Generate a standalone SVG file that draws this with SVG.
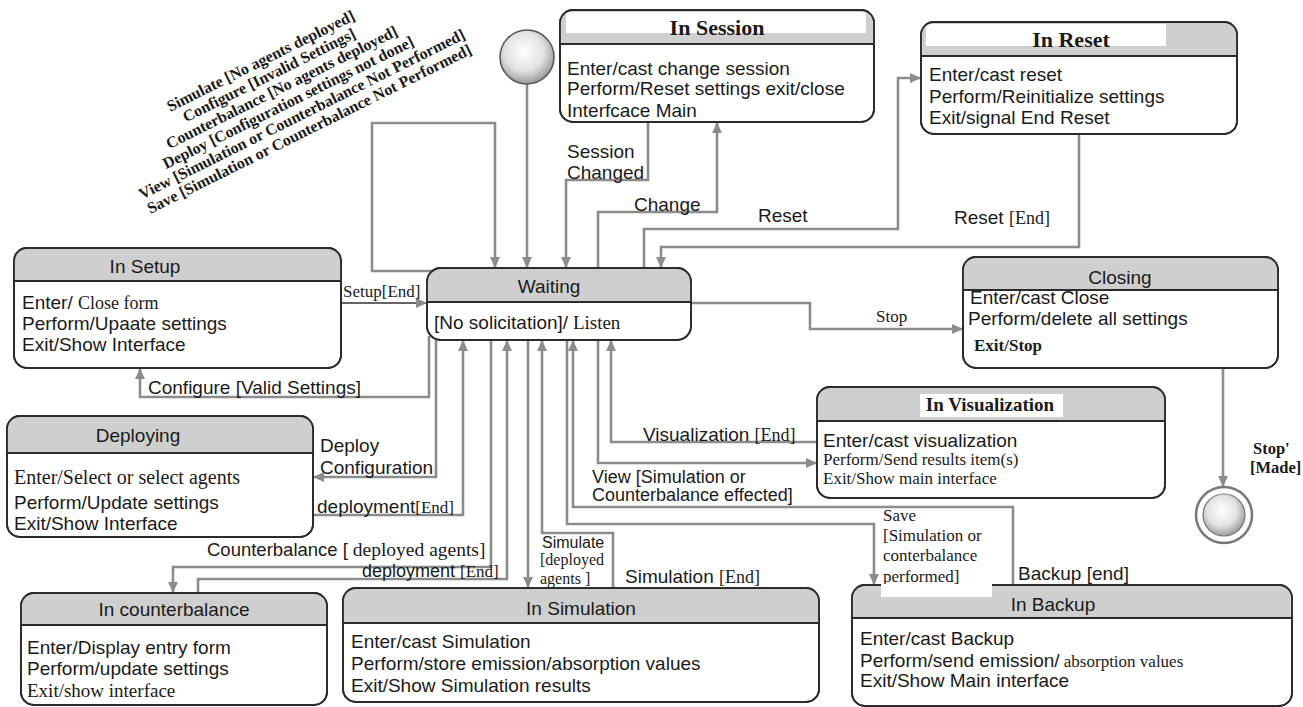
<svg xmlns="http://www.w3.org/2000/svg" width="1303" height="707" viewBox="0 0 1303 707">
<style>
.s{font-family:"Liberation Sans",Arial,sans-serif;font-size:19px;fill:#1a1a1a}
.t{font-family:"Liberation Serif","Times New Roman",serif;font-size:17px;fill:#1a1a1a}
.tb{font-family:"Liberation Serif","Times New Roman",serif;font-weight:bold;fill:#1a1a1a}
.box{fill:#fff;stroke:#2b2b2b;stroke-width:1.8}
.ol{fill:none;stroke:#2b2b2b;stroke-width:1.8}
.hd{fill:#cfcfcf}
.dv{stroke:#2b2b2b;stroke-width:1.8}
.c{fill:none;stroke:#8c8c8c;stroke-width:2.6}
.cd{fill:none;stroke:#333;stroke-width:1.6}
</style>
<defs>
<marker id="ah" viewBox="0 0 10 10" refX="10" refY="5" markerWidth="11" markerHeight="11" markerUnits="userSpaceOnUse" orient="auto">
<path d="M0,0.5 L10,5 L0,9.5 z" fill="#8c8c8c"/>
</marker>
<radialGradient id="g" cx="0.45" cy="0.4" r="0.6">
<stop offset="0" stop-color="#ffffff"/>
<stop offset="0.6" stop-color="#e2e2e2"/>
<stop offset="1" stop-color="#9a9a9a"/>
</radialGradient>
</defs>

<g id="guards" class="tb" style="font-size:16px">
<g transform="translate(170,112) rotate(-26.5)">
<text x="104" y="0" text-anchor="middle">Simulate [No agents deployed]</text>
<text x="105" y="16.5" text-anchor="middle">Configure [Invalid Settings]</text>
<text x="111" y="33" text-anchor="middle">Counterbalance [No agents deployed]</text>
<text x="110" y="49.5" text-anchor="middle">Deploy [Configuration settings not done]</text>
<text x="117" y="66" text-anchor="middle">View [Simulation or Counterbalance Not Performed]</text>
<text x="117" y="82.5" text-anchor="middle">Save [Simulation or Counterbalance Not Performed]</text>
</g>
</g>

<g id="connectors">
<path class="c" d="M527,84 V268" marker-end="url(#ah)"/>
<path class="c" d="M437,271 H372 V123 H495 V268" marker-end="url(#ah)"/>
<path class="c" d="M648,122 V180 H566 V268" marker-end="url(#ah)"/>
<path class="c" d="M598,268 V212 H717 V122" marker-end="url(#ah)"/>
<path class="c" d="M644,268 V229 H898 V78 H921" marker-end="url(#ah)"/>
<path class="c" d="M1079,134 V247 H661 V268" marker-end="url(#ah)"/>
<path class="cd" d="M341,303 H427" marker-end="url(#ah)"/>
<path class="c" d="M429,336 V397 H140 V368" marker-end="url(#ah)"/>
<path class="c" d="M691,303 H810 V329 H963" marker-end="url(#ah)"/>
<path class="c" d="M1223,368 V487" marker-end="url(#ah)"/>
<path class="c" d="M436,340 V477 H313" marker-end="url(#ah)"/>
<path class="c" d="M313,515 H463 V340" marker-end="url(#ah)"/>
<path class="c" d="M491,340 V567 H173 V593" marker-end="url(#ah)"/>
<path class="c" d="M198,593 V579 H507 V340" marker-end="url(#ah)"/>
<path class="c" d="M528,340 V588" marker-end="url(#ah)"/>
<path class="c" d="M613,588 V533 H542 V340" marker-end="url(#ah)"/>
<path class="c" d="M567,340 V524 H874 V585" marker-end="url(#ah)"/>
<path class="c" d="M1013,585 V507 H573 V340" marker-end="url(#ah)"/>
<path class="c" d="M598,340 V463 H817" marker-end="url(#ah)"/>
<path class="c" d="M817,442 H611 V340" marker-end="url(#ah)"/>
<text class="s" x="567" y="158">Session</text>
<text class="s" x="567" y="179">Changed</text>
<text class="s" x="634" y="211">Change</text>
<text class="s" x="758" y="222">Reset</text>
<text class="s" x="954" y="224">Reset <tspan class="t" style="font-size:18px">[End]</tspan></text>
<text class="t" x="343" y="297">Setup[End]</text>
<text class="s" x="148" y="394">Configure [Valid Settings]</text>
<text class="t" x="876" y="322">Stop</text>
<text class="tb" style="font-size:16.5px" x="1253" y="454">Stop'</text>
<text class="tb" style="font-size:16.5px" x="1250" y="473">[Made]</text>
<text class="s" x="320" y="452">Deploy</text>
<text class="s" x="320" y="474">Configuration</text>
<text class="s" x="317" y="513">deployment<tspan class="t">[End]</tspan></text>
<text class="s" style="font-size:18.5px" x="207" y="556">Counterbalance [<tspan class="t" style="font-size:19.5px"> deployed agents]</tspan></text>
<text class="s" style="font-size:18px" x="362" y="577">deployment <tspan class="t">[End]</tspan></text>
<text class="s" style="font-size:16px" x="542" y="548">Simulate</text>
<text class="t" style="font-size:16px" x="540" y="565">[deployed</text>
<text class="t" style="font-size:16px" x="540" y="584">agents ]</text>
<text class="s" x="625" y="583">Simulation <tspan class="t" style="font-size:18px">[End]</tspan></text>
<text class="t" x="883" y="521">Save</text>
<text class="t" x="883" y="541">[Simulation or</text>
<text class="t" x="883" y="561">conterbalance</text>
<text class="t" x="883" y="582">performed]</text>
<text class="s" x="1018" y="580">Backup [end]</text>
<text class="s" x="643" y="441">Visualization <tspan class="t" style="font-size:18px">[End]</tspan></text>
<text class="s" style="font-size:18px" x="592" y="483">View [Simulation or</text>
<text class="s" style="font-size:18px" x="592" y="501">Counterbalance effected]</text>
</g>

<g id="initial">
<circle cx="527" cy="57" r="27" fill="url(#g)" stroke="#555" stroke-width="1.5"/>
</g>

<g id="final">
<circle cx="1224" cy="515" r="28" fill="#fff" stroke="#777" stroke-width="2.5"/>
<circle cx="1224" cy="515" r="21" fill="url(#g)" stroke="#777" stroke-width="1.2"/>
</g>

<g id="in-session">
<rect class="box" x="560" y="10" width="314" height="112" rx="13"/>
<path class="hd" d="M560,44 V23 A13,13 0 0 1 573,10 H861 A13,13 0 0 1 874,23 V44 Z"/>
<rect x="566" y="12" width="300" height="21" fill="#fff"/>
<line class="dv" x1="560" y1="44" x2="874" y2="44"/>
<rect class="ol" x="560" y="10" width="314" height="112" rx="13"/>
<text class="tb" style="font-size:22px" x="717" y="35" text-anchor="middle">In Session</text>
<text class="s" x="567" y="75">Enter/cast change session</text>
<text class="s" x="567" y="95">Perform/Reset settings exit/close</text>
<text class="s" x="567" y="117">Interfcace Main</text>
</g>

<g id="in-reset">
<rect class="box" x="921" y="22" width="316" height="112" rx="13"/>
<path class="hd" d="M921,56 V35 A13,13 0 0 1 934,22 H1224 A13,13 0 0 1 1237,35 V56 Z"/>
<rect x="926" y="24" width="240" height="22" fill="#fff"/>
<line class="dv" x1="921" y1="56" x2="1237" y2="56"/>
<rect class="ol" x="921" y="22" width="316" height="112" rx="13"/>
<text class="tb" style="font-size:22px" x="1071" y="47" text-anchor="middle">In Reset</text>
<text class="s" x="929" y="81">Enter/cast reset</text>
<text class="s" x="929" y="103">Perform/Reinitialize settings</text>
<text class="s" x="929" y="124">Exit/signal End Reset</text>
</g>

<g id="waiting">
<rect class="box" x="427" y="268" width="264" height="72" rx="14"/>
<path class="hd" d="M427,302 V282 A14,14 0 0 1 441,268 H677 A14,14 0 0 1 691,282 V302 Z"/>
<line class="dv" x1="427" y1="302" x2="691" y2="302"/>
<rect class="ol" x="427" y="268" width="264" height="72" rx="14"/>
<text class="s" x="549" y="293" text-anchor="middle">Waiting</text>
<text class="s" x="434" y="329">[No solicitation]/<tspan class="t" style="font-size:19px"> Listen</tspan></text>
</g>

<g id="in-setup">
<rect class="box" x="14" y="248" width="327" height="120" rx="13"/>
<path class="hd" d="M14,281 V261 A13,13 0 0 1 27,248 H328 A13,13 0 0 1 341,261 V281 Z"/>
<line class="dv" x1="14" y1="281" x2="341" y2="281"/>
<rect class="ol" x="14" y="248" width="327" height="120" rx="13"/>
<text class="s" x="145" y="273" text-anchor="middle">In Setup</text>
<text class="s" x="22" y="309">Enter/ <tspan class="t" style="font-size:18px">Close form</tspan></text>
<text class="s" x="22" y="330"> Perform/Upaate settings</text>
<text class="s" x="22" y="351">Exit/Show Interface</text>
</g>

<g id="closing">
<rect class="box" x="963" y="257" width="315" height="111" rx="13"/>
<path class="hd" d="M963,290 V270 A13,13 0 0 1 976,257 H1265 A13,13 0 0 1 1278,270 V290 Z"/>
<line class="dv" x1="963" y1="290" x2="1278" y2="290"/>
<rect class="ol" x="963" y="257" width="315" height="111" rx="13"/>
<text class="s" x="1120" y="284" text-anchor="middle">Closing</text>
<text class="s" x="970" y="304">Enter/cast Close</text>
<text class="s" x="968" y="325">Perform/delete all settings</text>
<text class="tb" style="font-size:17px" x="974" y="351">Exit/Stop</text>
</g>

<g id="in-visualization">
<rect class="box" x="817" y="387" width="348" height="111" rx="13"/>
<path class="hd" d="M817,421 V400 A13,13 0 0 1 830,387 H1152 A13,13 0 0 1 1165,400 V421 Z"/>
<rect x="920" y="394" width="143" height="23" fill="#fff"/>
<line class="dv" x1="817" y1="421" x2="1165" y2="421"/>
<rect class="ol" x="817" y="387" width="348" height="111" rx="13"/>
<text class="tb" style="font-size:19px" x="990" y="411" text-anchor="middle">In Visualization</text>
<text class="s" x="823" y="447">Enter/cast visualization</text>
<text class="t" x="823" y="465">Perform/Send results item(s)</text>
<text class="t" x="823" y="484">Exit/Show main interface</text>
</g>

<g id="deploying">
<rect class="box" x="7" y="416" width="306" height="121" rx="13"/>
<path class="hd" d="M7,453 V429 A13,13 0 0 1 20,416 H300 A13,13 0 0 1 313,429 V453 Z"/>
<line class="dv" x1="7" y1="453" x2="313" y2="453"/>
<rect class="ol" x="7" y="416" width="306" height="121" rx="13"/>
<text class="s" x="138" y="442" text-anchor="middle">Deploying</text>
<text class="t" style="font-size:20px" x="14" y="484">Enter/Select or select agents</text>
<text class="s" x="14" y="509">Perform/Update settings</text>
<text class="s" x="14" y="530">Exit/Show Interface</text>
</g>

<g id="in-counterbalance">
<rect class="box" x="21" y="593" width="306" height="112" rx="13"/>
<path class="hd" d="M21,625 V606 A13,13 0 0 1 34,593 H314 A13,13 0 0 1 327,606 V625 Z"/>
<line class="dv" x1="21" y1="625" x2="327" y2="625"/>
<rect class="ol" x="21" y="593" width="306" height="112" rx="13"/>
<text class="s" x="174" y="616" text-anchor="middle">In counterbalance</text>
<text class="s" x="27" y="654">Enter/Display entry form</text>
<text class="s" x="27" y="675">Perform/update settings</text>
<text class="t" style="font-size:19px" x="27" y="697">Exit/show interface</text>
</g>

<g id="in-simulation">
<rect class="box" x="343" y="588" width="476" height="114" rx="13"/>
<path class="hd" d="M343,623 V601 A13,13 0 0 1 356,588 H806 A13,13 0 0 1 819,601 V623 Z"/>
<line class="dv" x1="343" y1="623" x2="819" y2="623"/>
<rect class="ol" x="343" y="588" width="476" height="114" rx="13"/>
<text class="s" x="581" y="615" text-anchor="middle">In Simulation</text>
<text class="s" x="351" y="648">Enter/cast Simulation</text>
<text class="s" x="351" y="670">Perform/store emission/absorption values</text>
<text class="s" x="351" y="692">Exit/Show Simulation results</text>
</g>

<g id="in-backup">
<rect class="box" x="852" y="585" width="440" height="121" rx="13"/>
<path class="hd" d="M852,618 V598 A13,13 0 0 1 865,585 H1279 A13,13 0 0 1 1292,598 V618 Z"/>
<line class="dv" x1="852" y1="618" x2="1292" y2="618"/>
<rect class="ol" x="852" y="585" width="440" height="121" rx="13"/>
<rect x="881" y="584" width="111" height="13" fill="#fff"/>
<text class="s" x="1053" y="611" text-anchor="middle">In Backup</text>
<text class="s" x="860" y="645">Enter/cast Backup</text>
<text class="s" x="860" y="667">Perform/send emission/<tspan class="t"> absorption values</tspan></text>
<text class="s" x="860" y="687">Exit/Show Main interface</text>
</g>
</svg>
